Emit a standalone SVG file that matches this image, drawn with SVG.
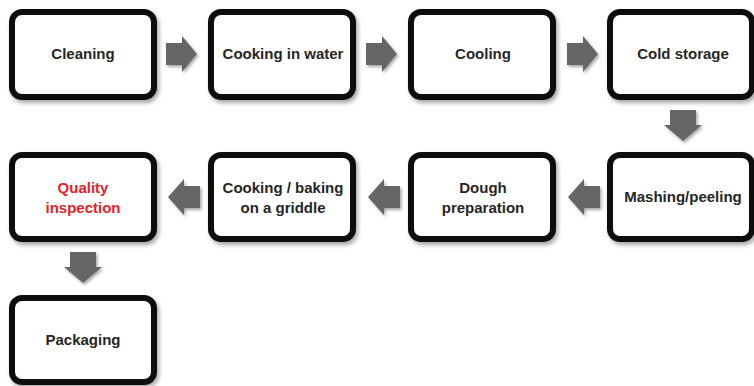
<svg xmlns="http://www.w3.org/2000/svg" width="754" height="386" viewBox="0 0 754 386">
<defs>
<filter id="sh" x="-10%" y="-10%" width="125%" height="130%">
<feDropShadow dx="2" dy="3" stdDeviation="2" flood-color="#000" flood-opacity="0.35"/>
</filter>
<filter id="ash" x="-30%" y="-30%" width="170%" height="170%">
<feDropShadow dx="1.5" dy="2" stdDeviation="1.5" flood-color="#000" flood-opacity="0.35"/>
</filter>
</defs>
<style>
.box{fill:#fff;stroke:#111;stroke-width:6;filter:url(#sh)}
.t{font-family:"Liberation Sans",Arial,sans-serif;font-weight:bold;font-size:15px;fill:#262626;text-anchor:middle}
.red{fill:#e8202a}
.arr{fill:#666;filter:url(#ash)}
</style>
<rect width="754" height="386" fill="#fff"/>
<g id="connectors">
<polygon class="arr" points="166,43 182,43 182,36 197,54 182,72 182,65 166,65"/>
<polygon class="arr" points="366,43 382,43 382,36 397,54 382,72 382,65 366,65"/>
<polygon class="arr" points="567,43 583,43 583,36 598,54 583,72 583,65 567,65"/>
<polygon class="arr" points="670,110 696,110 696,125 702,125 683,141 664,125 670,125"/>
<polygon class="arr" points="600,186 584,186 584,179 568,197 584,215 584,208 600,208"/>
<polygon class="arr" points="400,186 384,186 384,179 368,197 384,215 384,208 400,208"/>
<polygon class="arr" points="200,186 184,186 184,179 168,197 184,215 184,208 200,208"/>
<polygon class="arr" points="70,252 96,252 96,267 102,267 83,283 64,267 70,267"/>
</g>
<g id="n1"><rect class="box" x="12" y="12" width="142" height="85" rx="10"/><text class="t" x="83" y="59">Cleaning</text></g>
<g id="n2"><rect class="box" x="211" y="12" width="142" height="85" rx="10"/><text class="t" x="283" y="59">Cooking in water</text></g>
<g id="n3"><rect class="box" x="411" y="12" width="142" height="85" rx="10"/><text class="t" x="483" y="59">Cooling</text></g>
<g id="n4"><rect class="box" x="610" y="12" width="142" height="85" rx="10"/><text class="t" x="683" y="59">Cold storage</text></g>
<g id="n5"><rect class="box" x="610" y="155" width="142" height="84" rx="10"/><text class="t" x="683" y="202">Mashing/peeling</text></g>
<g id="n6"><rect class="box" x="411" y="155" width="142" height="84" rx="10"/><text class="t" x="483" y="193">Dough</text><text class="t" x="483" y="213">preparation</text></g>
<g id="n7"><rect class="box" x="211" y="155" width="142" height="84" rx="10"/><text class="t" x="283" y="193">Cooking / baking</text><text class="t" x="283" y="213">on a griddle</text></g>
<g id="n8"><rect class="box" x="12" y="155" width="142" height="84" rx="10"/><text class="t red" x="83" y="193">Quality</text><text class="t red" x="83" y="213">inspection</text></g>
<g id="n9"><rect class="box" x="12" y="298" width="142" height="84" rx="10"/><text class="t" x="83" y="345">Packaging</text></g>
</svg>
